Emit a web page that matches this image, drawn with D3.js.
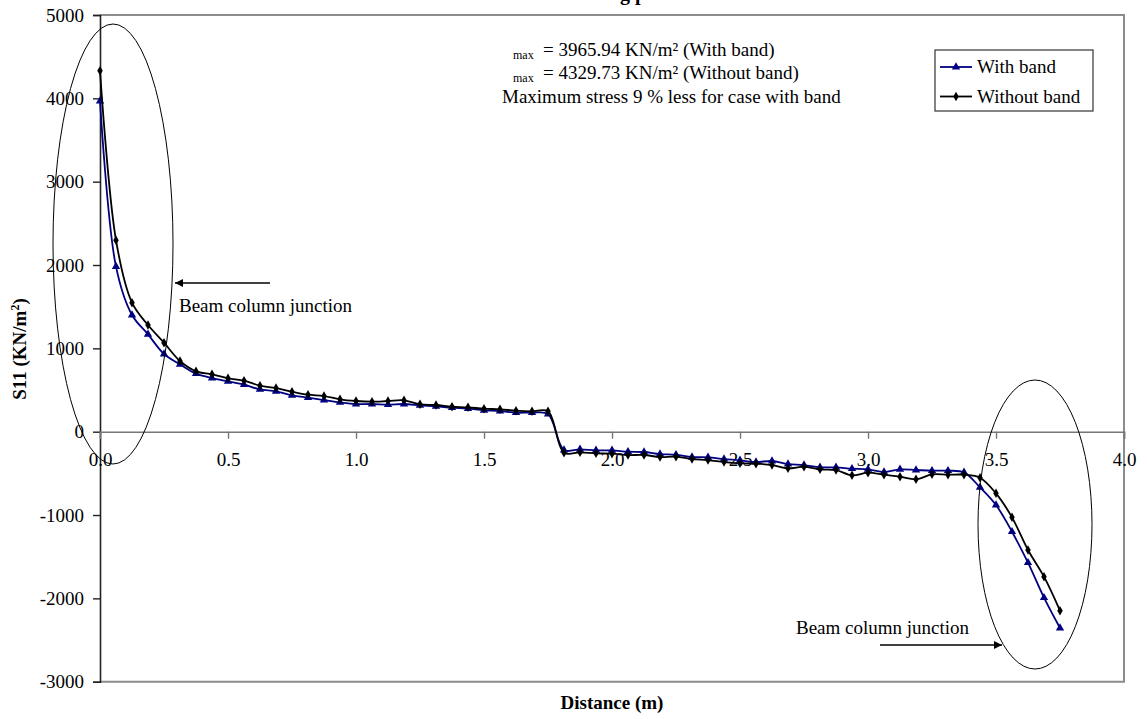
<!DOCTYPE html>
<html>
<head>
<meta charset="utf-8">
<script src="https://cdn.jsdelivr.net/npm/d3@7/dist/d3.min.js"></script>
<style>
  html, body { margin: 0; padding: 0; background: #fff; }
  svg { display: block; font-family: "Liberation Serif", "Times New Roman", serif; }
</style>
</head>
<body>
<svg id="chart" width="1147" height="719"></svg>
<script>
// Sampling stations along the member (m), every 0.0625 m
const distance = d3.range(61).map(i => i * 0.0625);

// S11 stress (KN/m²), member with band
const withBand = [
  3965.94, 1980, 1400, 1168, 932, 808, 696, 644, 604, 564,
  508, 484, 436, 408, 380, 352, 332, 332, 324, 332,
  316, 304, 288, 276, 256, 248, 228, 228, 212, -220,
  -212, -224, -224, -240, -244, -268, -276, -304, -308, -328,
  -344, -364, -352, -388, -400, -428, -428, -444, -452, -484,
  -452, -460, -468, -468, -488, -668, -880, -1200, -1572, -1992,
  -2356
];

// S11 stress (KN/m²), member without band
const withoutBand = [
  4329.73, 2297, 1548, 1280, 1068, 848, 724, 688, 640, 612,
  552, 524, 480, 444, 428, 388, 368, 360, 368, 376,
  328, 320, 300, 292, 276, 268, 252, 244, 244, -252,
  -248, -260, -264, -280, -280, -304, -300, -328, -340, -364,
  -380, -384, -400, -440, -420, -452, -460, -524, -492, -516,
  -540, -572, -512, -516, -516, -552, -740, -1028, -1420, -1740,
  -2148
];

const xTicks = [0, 0.5, 1.0, 1.5, 2.0, 2.5, 3.0, 3.5, 4.0];
const yTicks = [-3000, -2000, -1000, 0, 1000, 2000, 3000, 4000, 5000];

const seriesNames = ["With band", "Without band"];
const notes = [
  ["max", "= 3965.94 KN/m² (With band)"],
  ["max", "= 4329.73 KN/m² (Without band)"],
  ["", "Maximum stress 9 % less for case with band"]
];

const svg = d3.select("#chart");
const plotLeft = 100, plotRight = 1124, plotTop = 15, plotBottom = 681.7;

const x = d3.scaleLinear().domain([0, 4]).range([plotLeft, plotRight]);
const y = d3.scaleLinear().domain([-3000, 5000]).range([plotBottom, plotTop]);

const FS = 19;

// Title (sits mostly above the visible page)
const title = svg.append("text")
  .attr("y", 0)
  .attr("font-size", 20)
  .attr("font-weight", "bold")
  .attr("fill", "#000")
  .text("S11 stress distribution along path");
{
  const probe = svg.append("text").attr("font-size", 20).attr("font-weight", "bold")
    .text("S11 stress distribution alon");
  const w = probe.node().getComputedTextLength();
  probe.remove();
  title.attr("x", 620 - w);
}

// Plot frame (grey top / right / bottom edges)
svg.append("path")
  .attr("d", `M${plotLeft},${plotTop}H${plotRight}V${plotBottom}H${plotLeft}`)
  .attr("fill", "none")
  .attr("stroke", "#8c8c8c")
  .attr("stroke-width", 2);

// Y axis
const yAxis = svg.append("g")
  .attr("transform", `translate(${plotLeft},0)`)
  .call(d3.axisLeft(y).tickValues(yTicks).tickSize(7).tickPadding(9).tickFormat(d => String(d)));
yAxis.select(".domain").attr("stroke", "#222").attr("stroke-width", 1.6);
yAxis.selectAll(".tick line").attr("stroke", "#222").attr("stroke-width", 1.4);
yAxis.selectAll("text").attr("font-size", FS).attr("font-family", "Liberation Serif").attr("fill", "#000");

// X axis along the zero line
const xAxis = svg.append("g")
  .attr("transform", `translate(0,${y(0)})`)
  .call(d3.axisBottom(x).tickValues(xTicks).tickSize(7).tickPadding(14).tickFormat(d3.format(".1f")));
xAxis.select(".domain").attr("stroke", "#777").attr("stroke-width", 1.6);
xAxis.selectAll(".tick line").attr("stroke", "#777").attr("stroke-width", 1.4);
xAxis.selectAll("text").attr("font-size", FS).attr("font-family", "Liberation Serif").attr("fill", "#000");

// Axis titles
svg.append("text")
  .attr("x", (plotLeft + plotRight) / 2)
  .attr("y", 709)
  .attr("text-anchor", "middle")
  .attr("font-size", FS)
  .attr("font-weight", "bold")
  .text("Distance (m)");

const yTitle = svg.append("text")
  .attr("transform", `translate(26,349) rotate(-90)`)
  .attr("text-anchor", "middle")
  .attr("font-size", FS)
  .attr("font-weight", "bold");
yTitle.append("tspan").text("S11 (KN/m");
yTitle.append("tspan").text("2").attr("font-size", 12).attr("dy", -7);
yTitle.append("tspan").text(")").attr("dy", 7);

// Series
const line = d3.line()
  .x((d, i) => x(distance[i]))
  .y(d => y(d))
  .curve(d3.curveCatmullRom.alpha(0.5));

const triangle = d3.symbol().type(d3.symbolTriangle).size(30);
const diamond = d3.symbol().type(d3.symbolDiamond).size(26);

const series = [
  { name: seriesNames[0], values: withBand, color: "#000080", symbol: triangle },
  { name: seriesNames[1], values: withoutBand, color: "#000000", symbol: diamond }
];

series.forEach(s => {
  svg.append("path")
    .datum(s.values)
    .attr("d", line)
    .attr("fill", "none")
    .attr("stroke", s.color)
    .attr("stroke-width", 1.8);
  svg.append("g").selectAll("path")
    .data(s.values)
    .join("path")
    .attr("transform", (d, i) => `translate(${x(distance[i])},${y(d)})`)
    .attr("d", s.symbol())
    .attr("fill", s.color);
});

// Annotation block
notes.forEach((n, i) => {
  const baseY = 56 + i * 23;
  if (n[0]) {
    svg.append("text").attr("x", 513).attr("y", baseY + 3).attr("font-size", 12).text(n[0]);
    svg.append("text").attr("x", 543).attr("y", baseY).attr("font-size", FS).text(n[1]);
  } else {
    svg.append("text").attr("x", 502).attr("y", baseY + 1).attr("font-size", FS).text(n[1]);
  }
});

// Legend
const legend = svg.append("g");
legend.append("rect")
  .attr("x", 935).attr("y", 50).attr("width", 158).attr("height", 61)
  .attr("fill", "#fff").attr("stroke", "#333").attr("stroke-width", 1.2);
series.forEach((s, i) => {
  const ly = 67 + i * 29.5;
  legend.append("line")
    .attr("x1", 940).attr("x2", 972).attr("y1", ly).attr("y2", ly)
    .attr("stroke", s.color).attr("stroke-width", 1.8);
  legend.append("path")
    .attr("transform", `translate(956,${ly})`)
    .attr("d", s.symbol()).attr("fill", s.color);
  legend.append("text")
    .attr("x", 977).attr("y", ly + 6)
    .attr("font-size", FS)
    .text(s.name);
});

// Junction callouts: ellipses, arrows and labels
const junctions = [
  { cx: 113, cy: 244, rx: 60, ry: 220,
    arrow: [[270, 283], [175, 283]], label: [179, 312] },
  { cx: 1035, cy: 524.5, rx: 57, ry: 144.5,
    arrow: [[880, 645], [1002, 645]], label: [796, 634] }
];

svg.append("defs").append("marker")
  .attr("id", "head")
  .attr("viewBox", "0 0 10 10")
  .attr("refX", 10).attr("refY", 5)
  .attr("markerWidth", 10).attr("markerHeight", 8)
  .attr("markerUnits", "userSpaceOnUse")
  .attr("orient", "auto")
  .append("path").attr("d", "M0,0L10,5L0,10Z").attr("fill", "#000");

junctions.forEach(j => {
  svg.append("ellipse")
    .attr("cx", j.cx).attr("cy", j.cy).attr("rx", j.rx).attr("ry", j.ry)
    .attr("fill", "none").attr("stroke", "#000").attr("stroke-width", 1);
  svg.append("line")
    .attr("x1", j.arrow[0][0]).attr("y1", j.arrow[0][1])
    .attr("x2", j.arrow[1][0]).attr("y2", j.arrow[1][1])
    .attr("stroke", "#000").attr("stroke-width", 1.5)
    .attr("marker-end", "url(#head)");
  svg.append("text")
    .attr("x", j.label[0]).attr("y", j.label[1])
    .attr("font-size", FS)
    .text("Beam column junction");
});
</script>
</body>
</html>
